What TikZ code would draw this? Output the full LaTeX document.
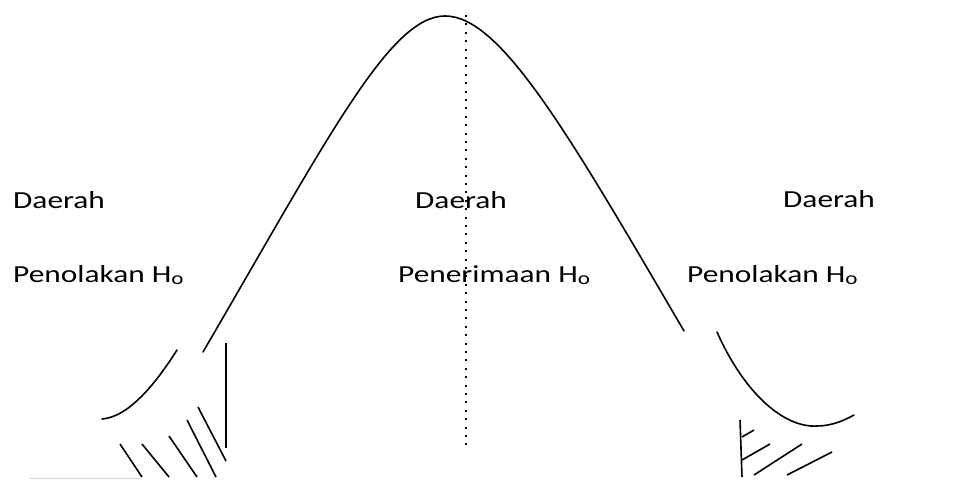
\documentclass[tikz,border=0pt]{standalone}
\usepackage{fontspec}
\newfontfamily\lblfont[FakeStretch=1.28]{Carlito}
\usetikzlibrary{positioning}
\newcommand{\Hnol}{H\raisebox{-2pt}{\fontsize{18pt}{18pt}\selectfont o}}

\begin{document}
\begin{tikzpicture}[
      x=1pt,y=-1pt,
      curve/.style={line width=1.6pt,line cap=round},
      hatch/.style={line width=1.6pt},
      midline/.style={line width=2pt,dash pattern=on 2pt off 6.4pt},
      lbl/.style={anchor=base west,inner sep=0pt,font=\lblfont\fontsize{24.5pt}{29pt}\selectfont}
    ]
    \useasboundingbox (0,0) rectangle (955,479);

    % bell curve, cut into three pieces
    \draw[curve] (203,352) .. controls (329,136) and (390,16) .. (445,16)
                 .. controls (500,16) and (566,129) .. (684,331);
    \draw[curve] (102,419) .. controls (130,417) and (158,380) .. (177,350);
    \draw[curve] (717,332) .. controls (745,395) and (785,428) .. (817,426)
                 .. controls (832,426) and (845,420) .. (854,415);

    % centre line
    \draw[midline] (466,15) -- (466,451);

    % left tail
    \draw[hatch] (226,343) -- (226,448);
    \draw[hatch] (120,444) -- (142,477) (142,444) -- (169,477) (169,436) -- (197,477)
                 (187,420) -- (216,477) (198,407) -- (226,461);

    % right tail
    \draw[hatch] (740,420) -- (742,477);
    \draw[hatch] (742,437) -- (754,430) (742,460) -- (770,444)
                 (754,475) -- (802,444) (787,475) -- (832,452);

    \draw[gray!35,line width=1pt] (30,478) -- (140,478);

    \node[lbl] (dl) at (13,208) {Daerah};
    \node[lbl] (pl) at (13,282) {Penolakan \Hnol};
    \node[lbl] (dm) at (415,208) {Daerah};
    \node[lbl] (pm) at (398,282) {Penerimaan \Hnol};
    \node[lbl] (dr) at (783,207) {Daerah};
    \node[lbl] (pr) at (687,282) {Penolakan \Hnol};
  \end{tikzpicture}
\end{document}
